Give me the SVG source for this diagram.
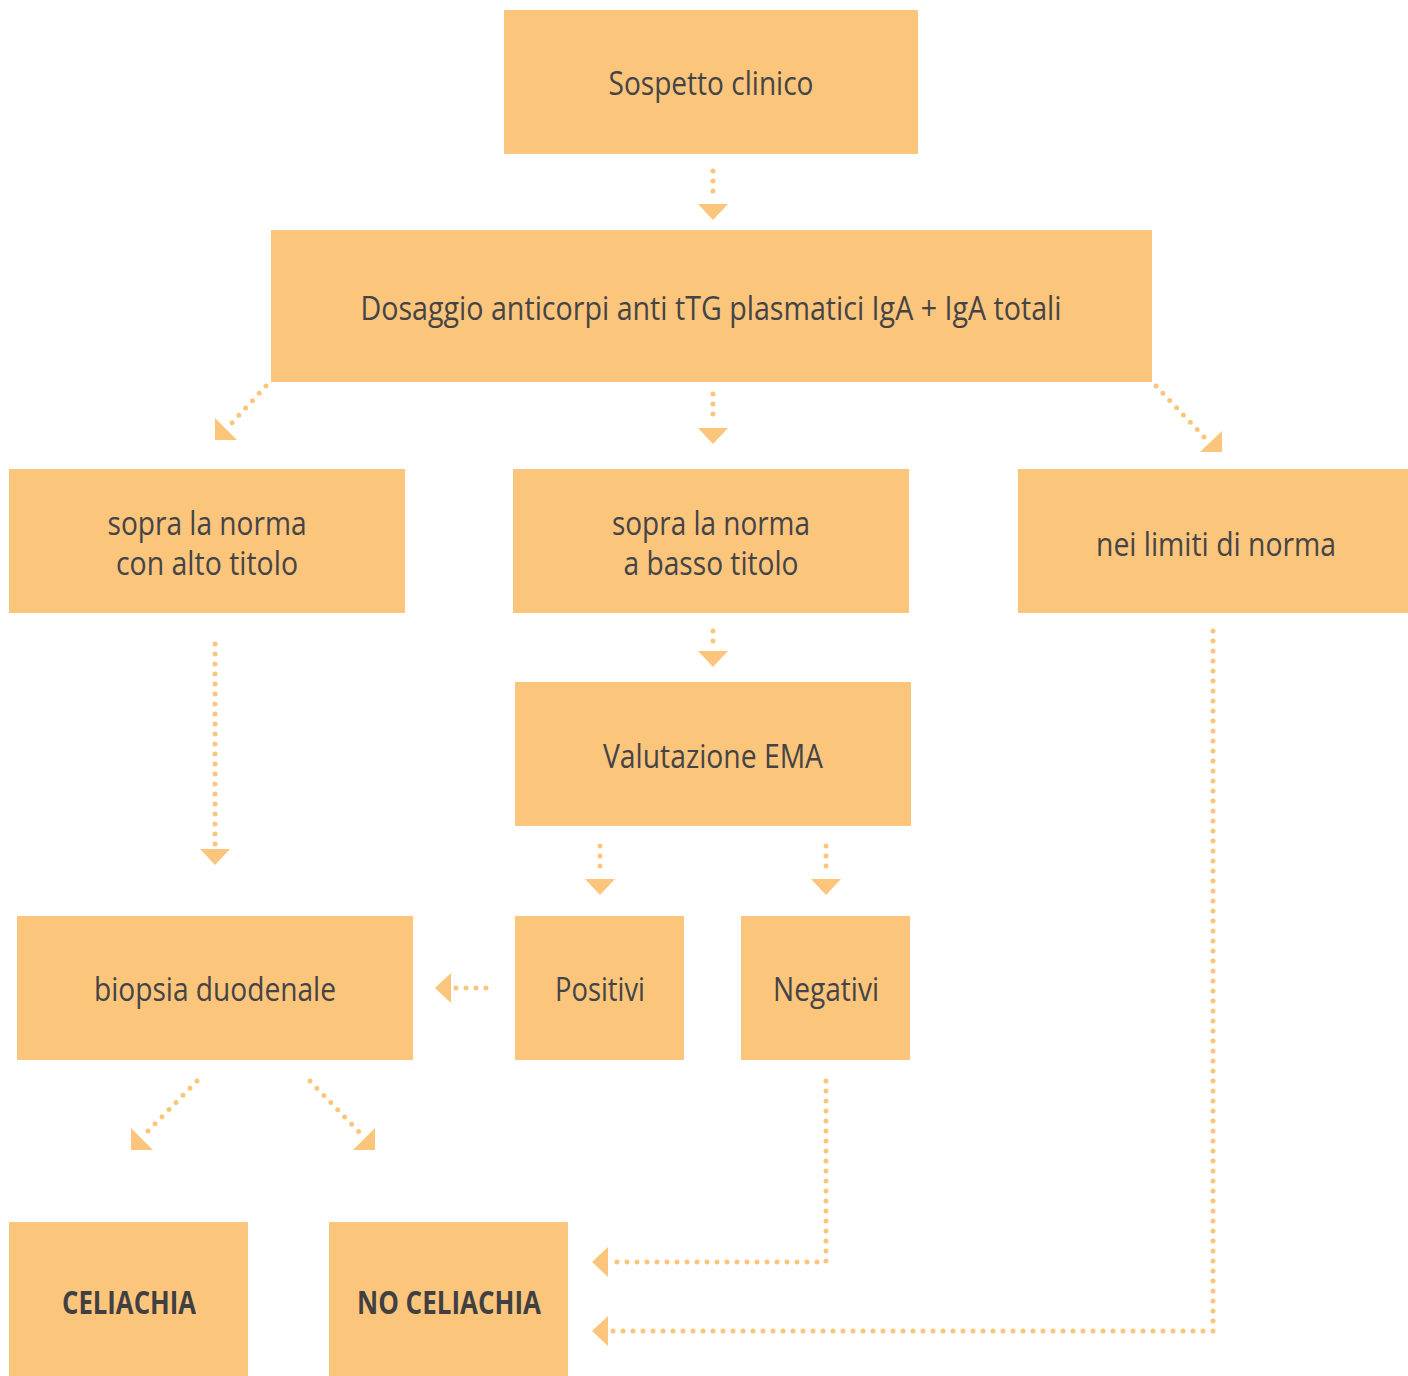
<svg xmlns="http://www.w3.org/2000/svg" width="1408" height="1376" viewBox="0 0 1408 1376">
<style>
.box{fill:#FCC57C}
.t{font-family:"Open Sans","Noto Sans",sans-serif;font-weight:400;font-size:32px;fill:#444446;text-anchor:middle}
.b{font-family:"Open Sans","Noto Sans",sans-serif;font-weight:700;font-size:32px;fill:#404042;text-anchor:middle}
.d{fill:none;stroke:#FCC57C;stroke-width:5;stroke-linecap:round;stroke-dasharray:0 10}
.h{fill:#FCC57C}
</style>
<rect width="1408" height="1376" fill="#fff"/>
<g id="n1"><rect class="box" x="504" y="10" width="414" height="144"/><text class="t" x="711" y="95" textLength="205" lengthAdjust="spacingAndGlyphs">Sospetto clinico</text></g>
<g id="n2"><rect class="box" x="271" y="230" width="881" height="152"/><text class="t" x="711" y="320" textLength="701" lengthAdjust="spacingAndGlyphs">Dosaggio anticorpi anti tTG plasmatici IgA + IgA totali</text></g>
<g id="n3"><rect class="box" x="9" y="469" width="396" height="144"/><text class="t" x="207" y="535" textLength="199" lengthAdjust="spacingAndGlyphs">sopra la norma</text><text class="t" x="207" y="575" textLength="182" lengthAdjust="spacingAndGlyphs">con alto titolo</text></g>
<g id="n4"><rect class="box" x="513" y="469" width="396" height="144"/><text class="t" x="711" y="535" textLength="198" lengthAdjust="spacingAndGlyphs">sopra la norma</text><text class="t" x="711" y="575" textLength="175" lengthAdjust="spacingAndGlyphs">a basso titolo</text></g>
<g id="n5"><rect class="box" x="1018" y="469" width="390" height="144"/><text class="t" x="1216" y="556" textLength="240" lengthAdjust="spacingAndGlyphs">nei limiti di norma</text></g>
<g id="n6"><rect class="box" x="515" y="682" width="396" height="144"/><text class="t" x="713" y="768" textLength="220" lengthAdjust="spacingAndGlyphs">Valutazione EMA</text></g>
<g id="n7"><rect class="box" x="17" y="916" width="396" height="144"/><text class="t" x="215" y="1001" textLength="242" lengthAdjust="spacingAndGlyphs">biopsia duodenale</text></g>
<g id="n8"><rect class="box" x="515" y="916" width="169" height="144"/><text class="t" x="600" y="1001" textLength="90" lengthAdjust="spacingAndGlyphs">Positivi</text></g>
<g id="n9"><rect class="box" x="741" y="916" width="169" height="144"/><text class="t" x="826" y="1001" textLength="106" lengthAdjust="spacingAndGlyphs">Negativi</text></g>
<g id="n10"><rect class="box" x="9" y="1222" width="239" height="154"/><text class="b" x="129" y="1314" textLength="134" lengthAdjust="spacingAndGlyphs">CELIACHIA</text></g>
<g id="n11"><rect class="box" x="329" y="1222" width="239" height="154"/><text class="b" x="449" y="1314" textLength="184" lengthAdjust="spacingAndGlyphs">NO CELIACHIA</text></g>
<g id="connectors">
<path class="d" d="M713 171V201"/><polygon class="h" points="698,204 728,204 713,220"/>
<path class="d" d="M713 394V424"/><polygon class="h" points="698,428 728,428 713,444"/>
<path class="d" d="M266 386L228 427"/><polygon class="h" points="215,418 215,440 237,440"/>
<path class="d" d="M1156 386L1207 440"/><polygon class="h" points="1222,431 1222,452 1200,452"/>
<path class="d" d="M215 644V846"/><polygon class="h" points="200,849 230,849 215,865"/>
<path class="d" d="M713 631V648"/><polygon class="h" points="698,651 728,651 713,667"/>
<path class="d" d="M600 846V876"/><polygon class="h" points="585,879 615,879 600,895"/>
<path class="d" d="M826 846V876"/><polygon class="h" points="811,879 841,879 826,895"/>
<path class="d" d="M486 988H455.5"/><polygon class="h" points="435,988 451,973 451,1003"/>
<path class="d" d="M197 1081L145 1134"/><polygon class="h" points="131,1128 131,1150 153,1150"/>
<path class="d" d="M310 1081L362 1135"/><polygon class="h" points="375,1128 375,1150 353,1150"/>
<path class="d" d="M826 1081V1262H612"/><polygon class="h" points="592,1262 608,1247 608,1277"/>
<path class="d" d="M1213 631V1331H612"/><polygon class="h" points="592,1331 608,1316 608,1346"/>
</g>
</svg>
